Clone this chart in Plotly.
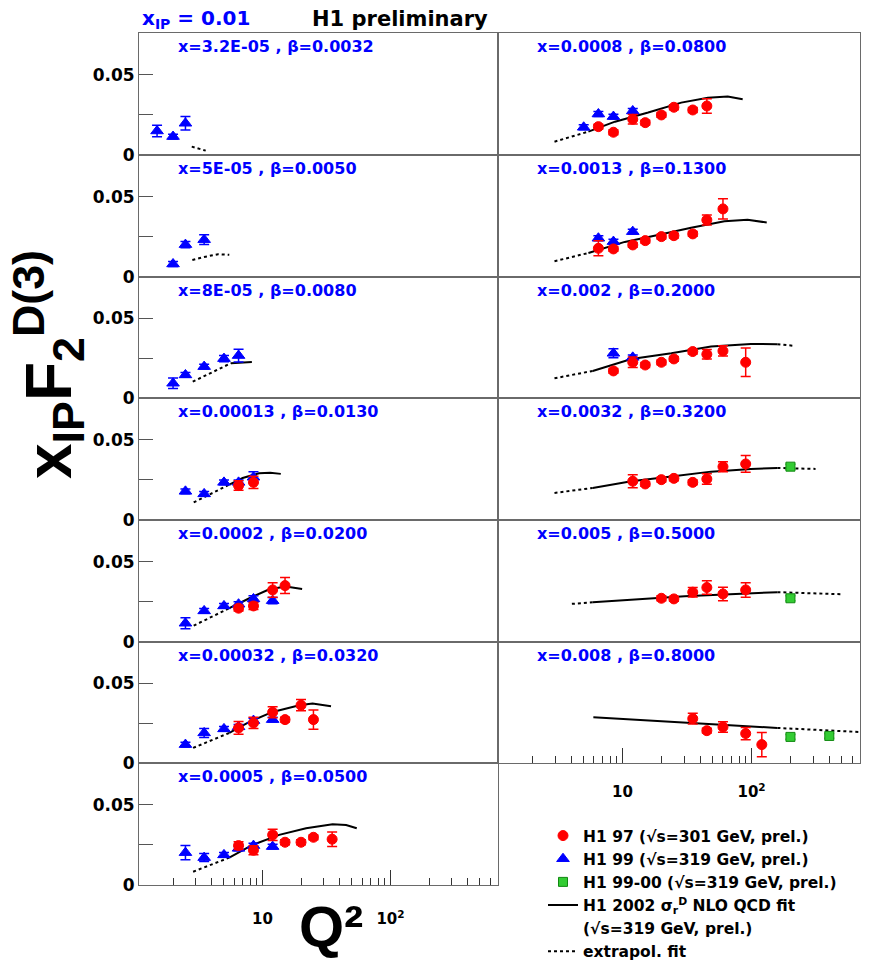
import plotly.graph_objects as go

# ---------------- data ----------------
panel_labels = [
    "x=3.2E-05 , β=0.0032", "x=5E-05 , β=0.0050", "x=8E-05 , β=0.0080",
    "x=0.00013 , β=0.0130", "x=0.0002 , β=0.0200", "x=0.00032 , β=0.0320",
    "x=0.0005 , β=0.0500", "x=0.0008 , β=0.0800", "x=0.0013 , β=0.1300",
    "x=0.002 , β=0.2000", "x=0.0032 , β=0.3200", "x=0.005 , β=0.5000",
    "x=0.008 , β=0.8000"]

# H1 99 (blue triangles)
h199_q2 = [[1.5, 2, 2.5], [2, 2.5, 3.5], [2, 2.5, 3.5, 5, 6.5],
           [2.5, 3.5, 5, 6.5, 8.5], [2.5, 3.5, 5, 6.5, 8.5, 12],
           [2.5, 3.5, 5, 6.5, 8.5, 12], [2.5, 3.5, 5, 6.5, 8.5, 12],
           [5, 6.5, 8.5, 12], [6.5, 8.5, 12], [8.5, 12], [], [], []]
h199_f = [[0.0150, 0.0115, 0.0198], [0.0079, 0.0200, 0.0231],
          [0.0094, 0.0146, 0.0198, 0.0248, 0.0267],
          [0.0179, 0.0163, 0.0235, 0.0235, 0.0267],
          [0.0115, 0.0192, 0.0223, 0.0234, 0.0267, 0.0256],
          [0.0117, 0.0190, 0.0215, 0.0228, 0.0267, 0.0273],
          [0.0202, 0.0171, 0.0188, 0.0229, 0.0246, 0.0240],
          [0.0173, 0.0256, 0.0240, 0.0275], [0.0240, 0.0219, 0.0281],
          [0.0281, 0.0256], [], [], []]
h199_err = [[0.0036, 0.0015, 0.0042], [0.0015, 0.0020, 0.0030],
            [0.0033, 0.0015, 0.0015, 0.0020, 0.0040],
            [0.0015, 0.0015, 0.0015, 0.0015, 0.0035],
            [0.0035, 0.0015, 0.0015, 0.0015, 0.0020, 0.0020],
            [0.0015, 0.0028, 0.0015, 0.0015, 0.0015, 0.0015],
            [0.0045, 0.0025, 0.0015, 0.0015, 0.0015, 0.0015],
            [0.0015, 0.0015, 0.0015, 0.0015], [0.0015, 0.0015, 0.0015],
            [0.0028, 0.0015], [], [], []]

# H1 97 (red circles)
h197_q2 = [[], [], [], [6.5, 8.5], [6.5, 8.5, 12, 15],
           [6.5, 8.5, 12, 15, 20, 25], [6.5, 8.5, 12, 15, 20, 25, 35],
           [6.5, 8.5, 12, 15, 20, 25, 35, 45],
           [6.5, 8.5, 12, 15, 20, 25, 35, 45, 60],
           [8.5, 12, 15, 20, 25, 35, 45, 60, 90],
           [12, 15, 20, 25, 35, 45, 60, 90],
           [20, 25, 35, 45, 60, 90], [35, 45, 60, 90, 120]]
h197_f = [[], [], [], [0.0215, 0.0235], [0.0209, 0.0223, 0.0323, 0.0350],
          [0.0221, 0.0252, 0.0319, 0.0273, 0.0363, 0.0273],
          [0.0246, 0.0217, 0.0313, 0.0267, 0.0267, 0.0298, 0.0286],
          [0.0177, 0.0142, 0.0223, 0.0202, 0.0250, 0.0298, 0.0281, 0.0306],
          [0.0177, 0.0173, 0.0198, 0.0225, 0.0250, 0.0256, 0.0267, 0.0354, 0.0423],
          [0.0171, 0.0225, 0.0208, 0.0225, 0.0246, 0.0292, 0.0275, 0.0296, 0.0225],
          [0.0242, 0.0225, 0.0252, 0.0260, 0.0235, 0.0256, 0.0333, 0.0350],
          [0.0271, 0.0267, 0.0309, 0.0338, 0.0298, 0.0323],
          [0.0279, 0.0204, 0.0227, 0.0186, 0.0117]]
h197_err = [[], [], [], [0.0030, 0.0038], [0.0018, 0.0022, 0.0045, 0.0050],
            [0.0040, 0.0035, 0.0035, 0.0015, 0.0035, 0.0060],
            [0.0024, 0.0028, 0.0035, 0.0015, 0.0015, 0.0015, 0.0045],
            [0.0015, 0.0015, 0.0030, 0.0015, 0.0015, 0.0015, 0.0015, 0.0045],
            [0.0047, 0.0015, 0.0015, 0.0015, 0.0015, 0.0015, 0.0015, 0.0031, 0.0063],
            [0.0015, 0.0033, 0.0015, 0.0015, 0.0015, 0.0015, 0.0030, 0.0032, 0.0089],
            [0.0040, 0.0015, 0.0015, 0.0015, 0.0015, 0.0033, 0.0031, 0.0052],
            [0.0015, 0.0015, 0.0030, 0.0042, 0.0042, 0.0045],
            [0.0034, 0.0015, 0.0033, 0.0038, 0.0076]]

# H1 99-00 (green squares)
h19900_q2 = [[], [], [], [], [], [], [], [], [], [], [200], [200], [200, 400]]
h19900_f = [[], [], [], [], [], [], [], [], [], [], [0.0333], [0.0271], [0.0165, 0.0171]]
h19900_err = [[], [], [], [], [], [], [], [], [], [], [0.0015], [0.0015], [0.0015, 0.0015]]

# H1 2002 NLO QCD fit (solid inside fitted range, dotted = extrapolation)
fit_q2 = [[2.8, 3.2, 3.6], [2.83, 3.5, 4.5, 5.5], [2.85, 5.66, 7.0, 8.26],
          [2.9, 5.5, 7.0, 9.4, 11.5, 13.9], [2.9, 5.5, 7.9, 11.3, 15.2, 20.4],
          [2.87, 5.5, 7.9, 12, 19.4, 24.6, 34.3],
          [2.87, 5.5, 8.35, 13.5, 21.9, 35.3, 45, 54.5],
          [2.97, 5.44, 8.74, 15.8, 28.5, 45.8, 65.3, 85.3],
          [2.97, 5.44, 10.4, 18.8, 34, 61.6, 93, 131],
          [2.97, 5.87, 11.7, 23.9, 48.5, 98.8, 158.5, 207],
          [2.97, 5.87, 11.7, 23.9, 48.5, 98.8, 158.5, 313],
          [4.05, 5.87, 30.3, 158.5, 503], [5.94, 158.5, 676]]
fit_f = [[0.0052, 0.0039, 0.0027], [0.0104, 0.0123, 0.0140, 0.0136],
         [0.0104, 0.0219, 0.0226, 0.0227],
         [0.0110, 0.0221, 0.0262, 0.0292, 0.0295, 0.0288],
         [0.0100, 0.0209, 0.0271, 0.0327, 0.0344, 0.0329],
         [0.0096, 0.0190, 0.0259, 0.0321, 0.0363, 0.0373, 0.0356],
         [0.0083, 0.0171, 0.0250, 0.0313, 0.0354, 0.0379, 0.0375, 0.0354],
         [0.0083, 0.0146, 0.0208, 0.0265, 0.0327, 0.0358, 0.0365, 0.0348],
         [0.0096, 0.0148, 0.0217, 0.0260, 0.0306, 0.0346, 0.0356, 0.0338],
         [0.0125, 0.0171, 0.0246, 0.0281, 0.0323, 0.0340, 0.0338, 0.0329],
         [0.0169, 0.0200, 0.0242, 0.0271, 0.0302, 0.0319, 0.0325, 0.0319],
         [0.0236, 0.0246, 0.0284, 0.0309, 0.0296], [0.0288, 0.0221, 0.0196]]
fit_solid_from = [None, None, 5.66, 5.5, 5.5, 5.5, 5.5, 5.44, 5.44, 5.87, 5.87, 5.87, 5.94]
fit_solid_to = [None, None, 8.26, 13.9, 20.4, 34.3, 54.5, 85.3, 131, 158.5, 158.5, 158.5, 158.5]

x_major_ticks = [10, 100]
x_major_labels = ["10", "10<sup>2</sup>"]
x_minor_ticks = [2, 3, 4, 5, 6, 7, 8, 9, 20, 30, 40, 50, 60, 70, 80, 90, 200, 300, 400, 500, 600]
y_ticks = [0, 0.05]
y_labels = ["0", "0.05"]
y_minor_ticks = [0.025]

leg_names = ["H1 97 (√s=301 GeV, prel.)", "H1 99 (√s=319 GeV, prel.)",
             "H1 99-00 (√s=319 GeV, prel.)", "H1 2002 σ<sub>r</sub><sup>D</sup> NLO QCD fit",
             "(√s=319 GeV, prel.)", "extrapol. fit"]

# ---------------- styling / geometry ----------------
W, H = 884, 965
COL_X = [(139, 498), (498, 860)]
TOP, ROW_H = 33.3, 121.67
XRANGE = [0.035, 2.84]
YRANGE = [0, 0.076]
RED, BLUE, GREEN = '#ff0000', '#0000ff', '#33cc33'
FONT = 'DejaVu Sans'
FRAME = '#6a6a6a'

fig = go.Figure()
layout_axes = {}
ann = []
shown = set()


def first(name):
    if name in shown:
        return False
    shown.add(name)
    return True


for i in range(13):
    col = 0 if i < 7 else 1
    row = i if i < 7 else i - 7
    n = '' if i == 0 else str(i + 1)
    x0, x1 = COL_X[col]
    top = TOP + row * ROW_H
    bot = top + ROW_H
    bottom_panel = i in (6, 12)
    xa = dict(type='log', range=XRANGE, domain=[x0 / W, x1 / W], anchor='y' + n,
              showline=True, mirror=True, linecolor=FRAME, linewidth=1,
              showgrid=False, zeroline=False, fixedrange=True, automargin=False)
    if bottom_panel:
        xa.update(ticks='inside', ticklen=15, tickwidth=1, tickcolor='#333',
                  tickvals=x_major_ticks, ticktext=x_major_labels,
                  ticklabelstandoff=20 if i == 6 else 15,
                  tickfont=dict(family=FONT, size=15, weight='bold', color='black'),
                  minor=dict(ticks='inside', ticklen=7, tickvals=x_minor_ticks,
                             tickcolor='#333', tickwidth=1))
    else:
        xa.update(showticklabels=False, ticks='')
    ya = dict(range=YRANGE, domain=[1 - bot / H, 1 - top / H], anchor='x' + n,
              showline=True, mirror=True, linecolor=FRAME, linewidth=1,
              showgrid=False, zeroline=False, fixedrange=True, automargin=False)
    if col == 0:
        ya.update(ticks='inside', ticklen=14, tickwidth=1, tickcolor='#555',
                  tickvals=y_ticks, ticktext=y_labels,
                  tickfont=dict(family=FONT, size=17, weight='bold', color='black'),
                  minor=dict(ticks='inside', ticklen=14, tickvals=y_minor_ticks,
                             tickcolor='#555', tickwidth=1))
    else:
        ya.update(showticklabels=False, ticks='')
    layout_axes['xaxis' + n] = xa
    layout_axes['yaxis' + n] = ya
    xr, yr = 'x' + n, 'y' + n

    # fit curve segments
    q, f = fit_q2[i], fit_f[i]
    lo, hi = fit_solid_from[i], fit_solid_to[i]
    segs = []
    if lo is None:
        segs.append((q, f, 'dot'))
    else:
        low = [(a, b) for a, b in zip(q, f) if a <= lo]
        mid = [(a, b) for a, b in zip(q, f) if lo <= a <= hi]
        high = [(a, b) for a, b in zip(q, f) if a >= hi]
        for part, style in ((low, 'dot'), (mid, 'solid'), (high, 'dot')):
            if len(part) > 1:
                segs.append(([p[0] for p in part], [p[1] for p in part], style))
    for sq, sf, style in segs:
        nm = leg_names[3] if style == 'solid' else leg_names[5]
        fig.add_trace(go.Scatter(x=sq, y=sf, mode='lines', xaxis=xr, yaxis=yr,
                                 line=dict(color='black', width=2, dash=style),
                                 name=nm, legendgroup=nm, showlegend=first(nm),
                                 legendrank=4 if style == 'solid' else 6,
                                 hoverinfo='skip'))

    for qs, fs, es, color, sym, size, k in (
            (h199_q2[i], h199_f[i], h199_err[i], BLUE, 'triangle-up', 11, 1),
            (h197_q2[i], h197_f[i], h197_err[i], RED, 'circle', 10, 0),
            (h19900_q2[i], h19900_f[i], h19900_err[i], GREEN, 'square', 9, 2)):
        if not qs:
            continue
        nm = leg_names[k]
        fig.add_trace(go.Scatter(
            x=qs, y=fs, mode='markers', xaxis=xr, yaxis=yr,
            marker=dict(symbol=sym, size=size, color=color,
                        line=dict(width=1, color='#118811' if k == 2 else color)),
            error_y=dict(type='data', array=es, color=color, thickness=1.5, width=5),
            name=nm, legendgroup=nm, showlegend=first(nm), legendrank=k + 1))

    ann.append(dict(text=panel_labels[i], xref=xr + ' domain', yref=yr + ' domain',
                    x=37 / (x1 - x0), y=1 - 13.5 / ROW_H, xanchor='left', yanchor='middle',
                    showarrow=False,
                    font=dict(family=FONT, size=16, weight='bold', color=BLUE)))

# extra legend line (second line of the fit entry)
fig.add_trace(go.Scatter(x=[None], y=[None], mode='markers', xaxis='x13', yaxis='y13',
                         marker=dict(size=1, color='rgba(0,0,0,0)'),
                         name=leg_names[4], showlegend=True, legendrank=5))

# titles
ann.append(dict(text="x<sub>IP</sub> = 0.01", xref='paper', yref='paper',
                x=140 / W, y=1 - 19 / H, xanchor='left', yanchor='middle', showarrow=False,
                font=dict(family=FONT, size=20, weight='bold', color=BLUE)))
ann.append(dict(text="H1 preliminary", xref='paper', yref='paper',
                x=310 / W, y=1 - 19 / H, xanchor='left', yanchor='middle', showarrow=False,
                font=dict(family=FONT, size=21, weight='bold', color='black')))
ann.append(dict(text="x<sub>IP</sub>F<sub>2</sub><sup>D(3)</sup>", xref='paper', yref='paper',
                x=48 / W, y=1 - 365 / H, xanchor='center', yanchor='middle', showarrow=False,
                textangle=-90,
                font=dict(family='Liberation Sans', size=64, weight='bold', color='black')))
ann.append(dict(text="Q²", xref='paper', yref='paper',
                x=331 / W, y=1 - 926 / H, xanchor='center', yanchor='middle', showarrow=False,
                font=dict(family='Liberation Sans', size=58, weight='bold', color='black')))

fig.update_layout(
    width=W, height=H, margin=dict(l=0, r=0, t=0, b=0, autoexpand=False),
    paper_bgcolor='white', plot_bgcolor='white',
    annotations=ann,
    legend=dict(x=543 / W, y=1 - 819 / H, xanchor='left', yanchor='top',
                font=dict(family=FONT, size=15.5, weight='bold', color='black'),
                bgcolor='rgba(0,0,0,0)', borderwidth=0, tracegroupgap=0,
                traceorder='normal'),
    **layout_axes)

fig.write_html("out.html", config={'displayModeBar': False})
